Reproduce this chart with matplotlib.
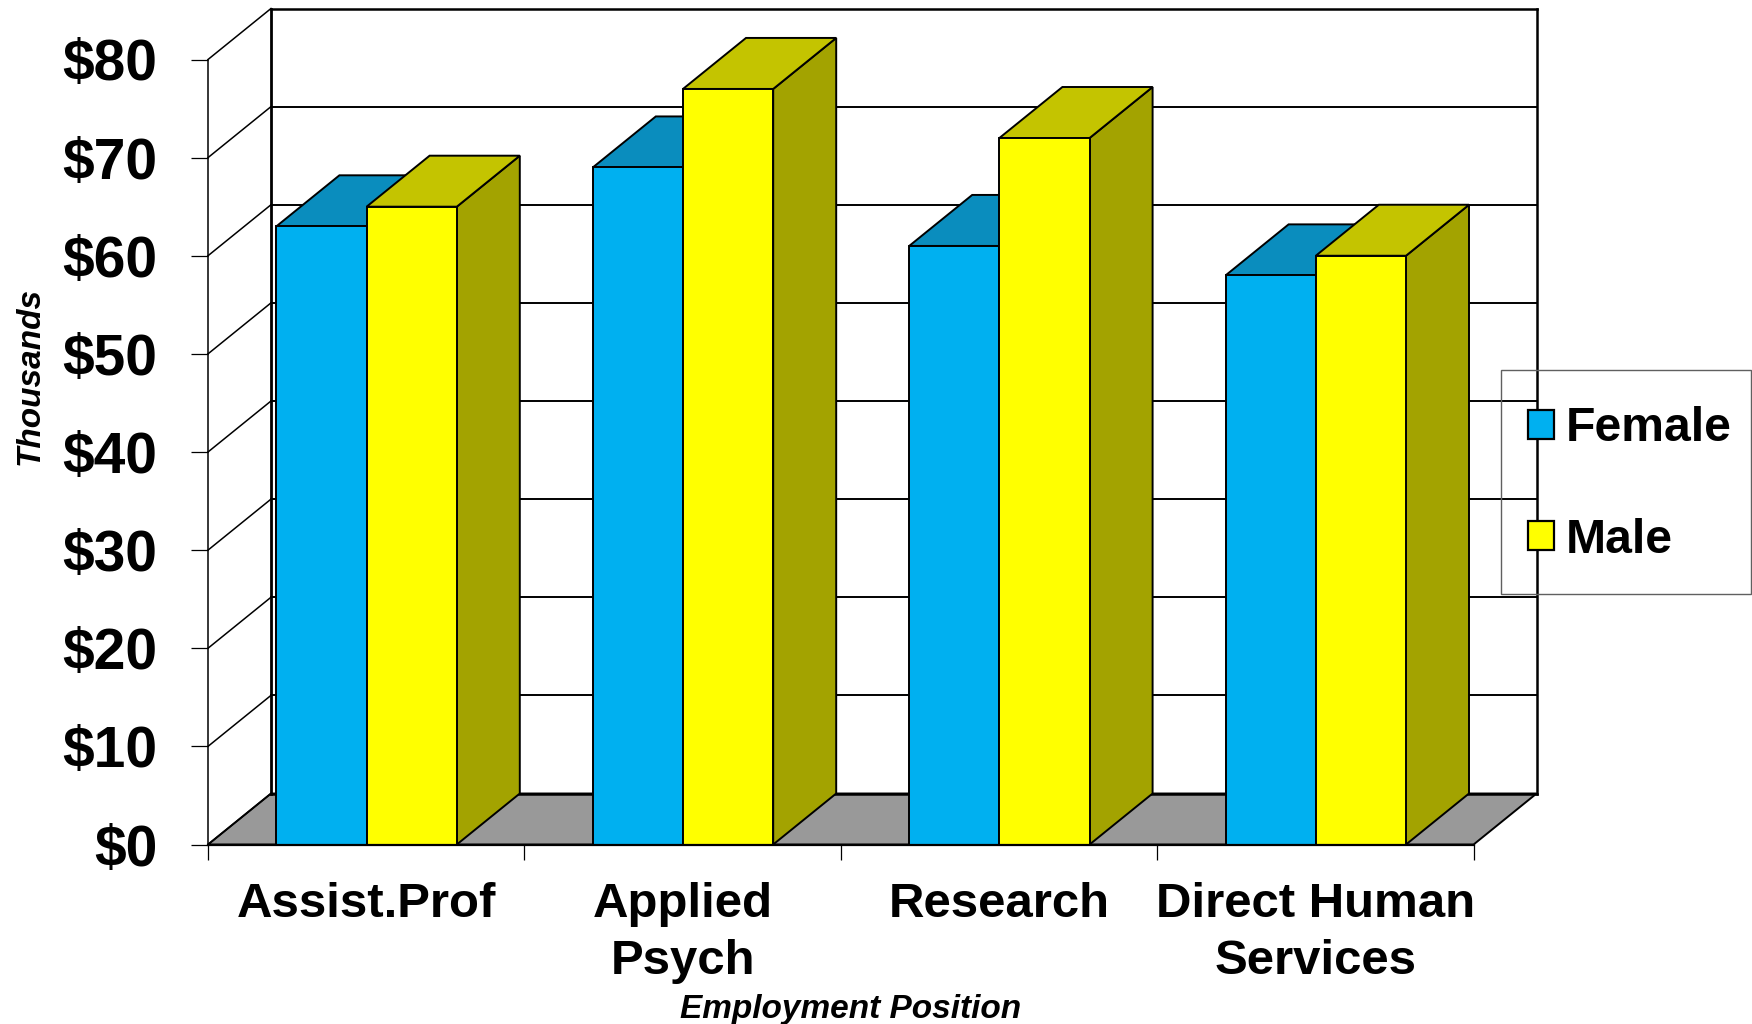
import matplotlib
matplotlib.use("Agg")
import matplotlib.pyplot as plt
from matplotlib.patches import Polygon, Patch, Rectangle

plt.rcParams['font.family'] = ['Liberation Sans', 'DejaVu Sans']

categories = ["Assist.Prof", "Applied\nPsych", "Research", "Direct Human\nServices"]
female = [63, 69, 61, 58]
male = [65, 77, 72, 60]
y_ticks = [0, 10, 20, 30, 40, 50, 60, 70, 80]
y_labels = ["$0", "$10", "$20", "$30", "$40", "$50", "$60", "$70", "$80"]

W, H = 1752, 1024
X0, X1, Y0, Y1 = 208, 1473.6, 844.5, 59.5   # plot front rectangle in pixels
DX = 63.0 / ((X1 - X0) / 4)                  # depth offset in category units
DY = 51.0 / ((Y0 - Y1) / 80)                 # depth offset in value units
BAR_W = 90.2 / ((X1 - X0) / 4)
BAR_SHIFT = 0.4 / ((X1 - X0) / 4)

C_FEMALE = ("#00B0F0", "#0A8DBE", "#0A7FAA")
C_MALE = ("#FFFF00", "#C4C400", "#A3A300")
LW = 1.4

fig = plt.figure(figsize=(W / 100, H / 100), dpi=100, facecolor="white")
ax = fig.add_axes([X0 / W, 1 - Y0 / H, (X1 - X0) / W, (Y0 - Y1) / H])
ax.set_xlim(0, 4)
ax.set_ylim(0, 80)
ax.patch.set_visible(False)
for s in ("top", "right"):
    ax.spines[s].set_visible(False)
ax.spines["left"].set_linewidth(1.1)
ax.spines["bottom"].set_linewidth(1.6)
ax.spines["bottom"].set_zorder(50)

ymax = y_ticks[-1]
n = len(categories)


def poly(pts, fc, z, ec="black", lw=LW):
    ax.add_patch(Polygon(pts, closed=True, facecolor=fc, edgecolor=ec, linewidth=lw,
                         joinstyle="miter", clip_on=False, zorder=z))


# floor
poly([(0, 0), (n, 0), (n + DX, DY), (DX, DY)], "#999999", 1)

# walls
for v in y_ticks:
    ax.plot([0, DX], [v, v + DY], color="black", lw=1.1, clip_on=False, zorder=1.5)
    ax.plot([DX, n + DX], [v + DY, v + DY], color="black",
            lw=1.8 if v in (0, ymax) else 1.4, clip_on=False, zorder=1.5)
ax.plot([DX, DX], [DY, ymax + DY], color="black", lw=2.0, clip_on=False, zorder=1.5)
ax.plot([n + DX, n + DX], [DY, ymax + DY], color="black", lw=1.8, clip_on=False, zorder=1.5)


def bar3d(left, v, colors, z):
    right = left + BAR_W
    poly([(right, 0), (right + DX, DY), (right + DX, v + DY), (right, v)], colors[2], z)
    poly([(left, v), (right, v), (right + DX, v + DY), (left + DX, v + DY)], colors[1], z + 0.1)
    poly([(left, 0), (right, 0), (right, v), (left, v)], colors[0], z + 0.2)


z = 5
for i in range(n):
    c = i + 0.5 + BAR_SHIFT
    bar3d(c - BAR_W, female[i], C_FEMALE, z)
    z += 1
    bar3d(c, male[i], C_MALE, z)
    z += 1

# axes ticks and labels
ax.set_yticks(y_ticks)
ax.set_yticklabels(y_labels, fontsize=41, fontweight="bold")
ax.tick_params(axis="y", length=12.2, width=0.9, pad=24.3)
ax.set_xticks(range(n + 1))
ax.set_xticklabels([""] * (n + 1))
ax.tick_params(axis="x", which="major", length=10.5, width=0.9)
ax.set_xticks([i + 0.5 for i in range(n)], minor=True)
ax.set_xticklabels(categories, minor=True, fontsize=35.4, fontweight="bold",
                   linespacing=1.33, multialignment="center")
ax.tick_params(axis="x", which="minor", length=0, pad=27)

ax.set_xlabel("Employment Position", fontsize=24, fontweight="bold", style="italic", va="center")
ax.xaxis.set_label_coords(0.508, -0.2097)
ax.set_ylabel("Thousands", fontsize=24, fontweight="bold", style="italic", va="center")
ax.yaxis.set_label_coords(-0.1405, 0.597)

# legend box (transparent, wall lines show through)
fig.add_artist(Rectangle((1501 / W, 1 - 593.7 / H), 250 / W, 223.7 / H, transform=fig.transFigure,
                         facecolor="none", edgecolor="#606060", linewidth=1.0, zorder=60))
leg = fig.legend(handles=[Patch(facecolor=C_FEMALE[0], edgecolor="black", linewidth=1.6, label="Female"),
                          Patch(facecolor=C_MALE[0], edgecolor="black", linewidth=1.6, label="Male")],
                 loc="center left", bbox_to_anchor=(1528 / W, 1 - 484.5 / H), frameon=False,
                 prop={"size": 34.7, "weight": "bold"}, borderpad=0, borderaxespad=0,
                 handlelength=0.53, handleheight=0.53, handletextpad=0.25, labelspacing=1.37)
leg.set_zorder(70)

fig.savefig("out.png", dpi=100, facecolor="white")
